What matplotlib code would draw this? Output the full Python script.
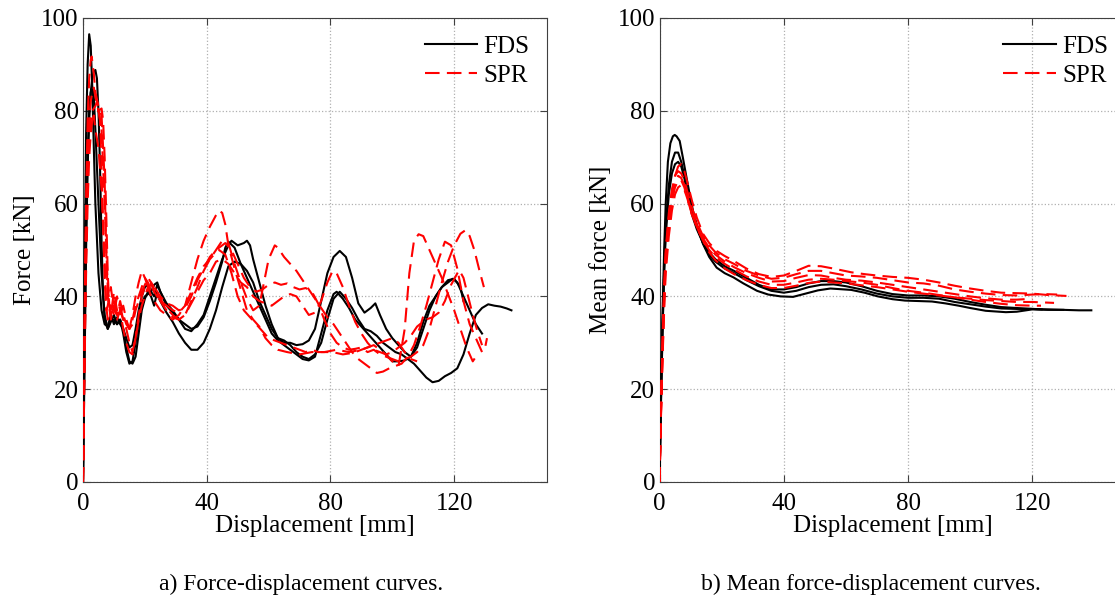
import matplotlib
matplotlib.use("Agg")
import matplotlib.pyplot as plt

plt.rcParams['font.family'] = ['Liberation Serif', 'DejaVu Serif']

# ---- a) force-displacement curves, (displacement [mm], force [kN]) ----
fds_force_1 = [(0, 0), (0.5, 45), (1, 75), (1.5, 90), (2, 96.5), (2.5, 94), (3, 85), (3.5, 72), (4, 60), (5, 45),
               (6, 37), (7, 34), (8, 33.5), (9, 36), (10, 34), (11, 35.5), (12, 34), (13, 33), (14, 29), (15, 26),
               (16, 25.5), (17, 27), (18, 32), (19, 37), (20, 39.5), (21, 41), (22, 40), (23, 38), (24, 41), (25, 39),
               (27, 36.5), (29, 34.5), (31, 32), (33, 30), (35, 28.5), (37, 28.5), (39, 30), (41, 33), (43, 37),
               (45, 42), (47, 46.5), (49, 47.5), (51, 47), (53, 45.5), (55, 43), (57, 39), (59, 36), (61, 33),
               (63, 31), (65, 30.5), (67, 29.5), (69, 28), (71, 27), (73, 26.5), (75, 27.5), (77, 30), (79, 35),
               (81, 39.5), (83, 41), (85, 39.5), (87, 37.5), (89, 35), (91, 33), (93, 32.5), (95, 31.5), (97, 30),
               (99, 29), (101, 28), (103, 27.5), (105, 26.5), (107, 25.5), (109, 24), (111, 22.5), (113, 21.5),
               (115, 21.8), (117, 22.8), (119, 23.5), (121, 24.5), (123, 27.5), (125, 32), (127, 36), (129, 37.5),
               (131, 38.3), (133, 38), (135, 37.8), (137, 37.4), (138.5, 37)]
fds_force_2 = [(0, 0), (0.5, 25), (1, 50), (1.5, 68), (2, 78), (2.5, 84), (3, 87), (3.5, 88.5), (4, 88.8), (4.5, 87),
               (5, 80), (5.5, 68), (6, 52), (6.5, 40), (7, 35), (8, 33), (9, 35), (10, 35), (11, 34), (12, 35),
               (13, 33), (14, 31), (15, 29), (16, 29.5), (17, 33), (18, 37), (19, 40), (20, 42), (21, 42.5), (22, 41),
               (23, 40), (24, 42.5), (25, 41), (27, 38.5), (29, 37), (31, 35), (33, 33), (35, 32.5), (37, 34),
               (39, 36), (41, 40), (43, 44), (45, 48), (47, 51), (48, 52), (50, 51), (52, 51.5), (53, 52), (54, 51),
               (55, 48), (57, 43), (59, 38), (61, 34), (63, 31), (65, 30), (67, 30), (69, 29.5), (71, 29.7),
               (73, 30.5), (75, 33), (77, 39), (79, 45), (81, 48.5), (83, 49.8), (85, 48.5), (87, 44), (89, 38.5),
               (91, 36.5), (93, 37.5), (94.5, 38.5), (96, 36), (98, 33), (100, 31), (102, 29.5), (104, 28),
               (106, 27), (108, 29), (110, 33), (112, 37), (114, 40), (116, 42), (118, 43.5), (120, 43.8), (122, 42),
               (123, 39)]
fds_force_3 = [(0, 0), (0.5, 30), (1, 55), (1.5, 70), (2, 80), (2.5, 84), (3, 85), (3.5, 83), (4, 76), (5, 60),
               (6, 45), (7, 36), (8, 33), (9, 34.5), (10, 36), (11, 34), (12, 35), (13, 32), (14, 28), (15, 25.5),
               (16, 26), (17, 30), (18, 35), (19, 38.5), (20, 40), (21, 40.5), (22, 41), (23, 42.5), (24, 43),
               (25, 41), (27, 38), (29, 36.5), (31, 35), (33, 34), (35, 33), (37, 33.5), (39, 35.5), (41, 39),
               (43, 43), (45, 47.5), (46, 50.5), (47, 51.8), (49, 50.5), (51, 47), (53, 44), (55, 41), (57, 38),
               (59, 35), (61, 32), (63, 30.5), (65, 29.5), (67, 28.5), (69, 27.5), (71, 26.5), (73, 26.2), (75, 27),
               (77, 32), (79, 37), (81, 40.5), (82, 41), (84, 39.5), (86, 37.5), (88, 35), (90, 33.5), (92, 32),
               (94, 30.5), (96, 29), (98, 27.5), (100, 26), (102, 26), (104, 26.2), (106, 27), (108, 30),
               (110, 34.5), (112, 38), (114, 40), (116, 42), (118, 43), (119.5, 43.8), (121, 43), (123, 40),
               (125, 37), (127, 34), (129, 32)]

spr_force_1 = [(0, 0), (0.5, 35), (1, 60), (1.5, 78), (2, 87), (2.5, 91), (2.8, 91.7), (3.5, 88), (4, 84), (5, 81),
               (5.5, 78), (6, 68), (6.5, 55), (7, 44), (7.5, 37), (8, 38), (9, 42), (10, 37), (11, 36), (12, 38),
               (13, 35), (14, 34), (15, 33), (16, 36), (17, 40), (18, 43), (19, 45.5), (20, 44), (21, 42), (22, 43),
               (23, 41), (25, 39), (27, 38), (29, 37), (31, 36.5), (33, 38), (35, 43), (37, 48), (39, 52), (41, 55),
               (43, 57.5), (44, 58.5), (45, 58), (46, 55.5), (47, 51), (49, 46), (51, 41.5), (53, 37), (55, 35),
               (57, 33.5), (59, 31), (61, 29.5), (63, 28.5), (66, 28), (70, 27.5), (74, 28), (78, 28), (82, 28.5),
               (86, 28), (90, 28.5), (94, 29.5), (97, 28), (100, 26), (102, 25), (104, 33), (105.5, 45), (107, 52),
               (108.5, 53.4), (110, 53), (112, 50), (114, 47), (116, 44), (118, 40.5), (120, 37), (122, 33),
               (124, 29), (126, 26), (127, 27)]
spr_force_2 = [(0, 0), (0.5, 30), (1, 55), (1.5, 70), (2, 78), (2.5, 82), (3, 84), (3.5, 85), (4, 83), (5, 80),
               (6, 76), (7, 60), (8, 42), (9, 36), (10, 39), (11, 35), (12, 37), (13, 33), (14, 30), (15, 28),
               (16, 27.5), (17, 31), (18, 36), (19, 40), (20, 42), (21, 41), (22, 43), (23, 42), (25, 39.5),
               (27, 37.5), (29, 36), (31, 35), (33, 36), (35, 39), (37, 42), (39, 45.5), (41, 48), (43, 50), (45, 52),
               (47, 51.5), (49, 47), (51, 43), (53, 39.5), (55, 37), (57, 38), (58.5, 43), (60, 48), (62, 51),
               (63, 50.5), (65, 48.5), (67, 47), (69, 45.5), (71, 43.5), (73, 41.5), (75, 39.5), (77, 37.5),
               (79, 35.5), (81, 34), (83, 32), (85, 30), (87, 28), (89, 26.5), (91, 25.5), (93, 24.5), (95, 23.5),
               (97, 23.8), (99, 24.5), (101, 25), (103, 25.5), (105, 27), (107, 29.5), (109, 33.5), (111, 38),
               (113, 43), (115, 48), (117, 51.8), (119, 51), (121, 46), (123, 39), (125, 34), (127, 31), (129, 28),
               (130, 29), (130.6, 31)]
spr_force_3 = [(0, 0), (0.5, 28), (1, 50), (1.5, 66), (2, 74), (2.5, 78), (3, 80), (4, 81), (4.5, 82), (5, 81),
               (6, 79), (7, 65), (7.5, 50), (8, 40), (9, 35), (10, 38), (11, 36), (12, 39), (13, 36), (14, 34),
               (15, 33), (16, 35), (17, 38), (18, 40), (19, 42), (20, 44), (21, 43), (22, 41), (23, 42), (25, 40),
               (27, 38.5), (29, 38), (31, 37), (33, 37.5), (35, 40), (37, 43.5), (39, 46), (41, 48.5), (43, 50),
               (45, 51), (46, 51.5), (48, 50), (50, 47), (52, 44), (54, 42), (56, 41), (58, 41.5), (60, 42.5),
               (62, 43), (64, 42.5), (66, 42.8), (68, 42), (70, 41.5), (72, 41.8), (74, 41), (76, 38.5), (78, 35),
               (80, 32), (82, 30), (84, 29), (86, 28.5), (88, 28.7), (90, 29), (92, 28), (94, 28.5), (96, 27.5),
               (98, 27), (100, 26.5), (102, 26), (104, 26.5), (106, 27), (108, 28), (110, 29.5), (112, 33), (114, 38),
               (116, 43), (118, 47.5), (120, 51), (122, 53.5), (123.7, 54.3), (125, 53), (126.5, 50), (128, 46),
               (129.6, 42)]
spr_force_4 = [(0, 0), (0.5, 25), (1, 45), (1.5, 60), (2, 70), (2.5, 75), (3, 78), (4, 79), (5, 80), (6, 80.5),
               (6.5, 78), (7, 70), (7.5, 58), (8, 45), (8.5, 38), (9, 36), (10, 41), (11, 37), (12, 36), (13, 38),
               (14, 35), (15, 33), (16, 34), (17, 37), (18, 39), (19, 41), (20, 42.5), (21, 44), (22, 43), (23, 41),
               (25, 39), (27, 37), (29, 35.5), (31, 35), (33, 36), (35, 38.5), (37, 41), (39, 43.5), (41, 45),
               (43, 47.5), (45, 48), (47, 47), (49, 45), (51, 43), (53, 42), (55, 40), (57, 39), (59, 38.5), (61, 38),
               (63, 39), (65, 40), (67, 40.5), (69, 40), (71, 38), (73, 36), (75, 36.5), (77, 39), (79, 43),
               (80.7, 45.5), (82, 45), (84, 42), (86, 38), (88, 34.5), (90, 32), (92, 30), (94, 28.5), (96, 28),
               (98, 27.5), (100, 28), (102, 29), (104, 30), (106, 31.5), (108, 33.5), (110.8, 35), (113, 35.5),
               (115, 36.5), (117, 39), (119, 42.5), (121.6, 45.7), (123, 44), (124.5, 40), (126, 36), (127.5, 32.5),
               (129, 29.5)]
spr_force_5 = [(0, 0), (0.5, 32), (1, 58), (1.5, 72), (2, 77), (2.5, 79), (3, 78), (3.5, 79), (4, 76), (5, 72),
               (6, 63), (7, 48), (7.5, 38), (8, 35), (9, 38), (10, 36), (11, 40), (12, 37), (13, 35), (14, 33),
               (15, 30), (16, 28), (17, 31), (18, 35), (19, 38), (20, 40), (21, 42), (22, 40), (23, 39), (25, 37),
               (27, 36), (29, 35), (31, 36), (33, 38), (35, 41), (37, 44), (39, 46.5), (41, 48), (43, 49.5), (44, 50),
               (46, 49), (48, 45), (50, 40), (52, 37), (54, 35.5), (56, 34), (58, 32.5), (60, 31), (62, 30.5),
               (64, 30), (66, 29.5), (68, 29), (70, 28.5), (72, 28), (74, 28.5), (76, 28), (78, 28), (80, 28),
               (82, 27.8), (84, 27.5), (86, 27.7), (88, 28), (90, 28.5), (92, 29), (94, 29.5), (96, 30), (98, 30.5),
               (100, 31), (102, 30), (104, 28), (106, 26.5), (108, 26)]

# ---- b) mean force-displacement curves ----
fds_mean_1 = [(0, 0), (0.5, 20), (1, 37), (1.5, 50), (2, 60), (2.7, 69), (3.5, 73), (4.3, 74.5), (4.9, 74.8),
              (5.5, 74.5), (6.5, 73.5), (7.5, 70), (8.7, 65.6), (10, 61), (10.8, 58.4), (12, 55.5), (14, 51.3),
              (16, 48.5), (18.4, 46.2), (21, 45), (23.8, 44.1), (27, 42.8), (31.4, 41.2), (35, 40.4), (39, 40),
              (43, 39.9), (47, 40.6), (51, 41.3), (55, 41.7), (61.7, 41.4), (66, 40.8), (70.3, 40), (75, 39.4),
              (79, 39.1), (87.7, 38.9), (92, 38.5), (96.3, 38), (100, 37.5), (105, 36.9), (111.5, 36.6), (115, 36.7),
              (120, 37.2), (125, 37.1), (130, 37.1), (135, 37), (139, 37)]
fds_mean_2 = [(0, 0), (0.5, 18), (1, 34), (1.5, 46), (2, 55), (3, 64), (4, 69), (5, 71), (6, 71), (7, 69), (8, 66),
              (9, 62.5), (10.5, 58), (12, 55), (14, 51.5), (16, 49), (18, 47.5), (21, 46), (24, 45), (28, 43.5),
              (32, 42.2), (36, 41.2), (40, 40.8), (44, 41.2), (48, 42), (52, 42.5), (56, 42.6), (60, 42.2),
              (65, 41.5), (70, 40.6), (75, 40), (80, 39.7), (85, 39.7), (90, 39.5), (95, 38.8), (100, 38.3),
              (105, 37.8), (110, 37.4), (115, 37.3), (120, 37.3), (123, 37.2)]
fds_mean_3 = [(0, 0), (0.5, 18), (1, 33), (1.5, 45), (2, 53), (3, 62), (4, 66.5), (5, 68.5), (6, 69), (7, 68),
              (8, 65.5), (9, 62), (10.5, 57.5), (12, 54.5), (14, 51.5), (16, 49.5), (18, 48), (21, 46.5), (24, 45.5),
              (28, 44), (32, 42.5), (36, 41.5), (40, 41.5), (44, 42), (48, 42.8), (52, 43.3), (56, 43.3), (60, 43),
              (65, 42.2), (70, 41.2), (75, 40.5), (80, 40.2), (85, 40.2), (90, 40), (95, 39.5), (100, 38.8),
              (105, 38.2), (110, 37.7), (115, 37.5), (120, 37.3), (125, 37.2), (130, 37.1)]

spr_mean_1 = [(0, 0), (0.5, 16), (1, 30), (1.5, 41), (2, 49), (3, 57), (4, 62.5), (5, 66), (6, 68), (7, 68.5),
              (8, 67), (9, 64.5), (10.5, 60.5), (12, 57), (14, 53.5), (16, 51.5), (18.4, 49.8), (21, 48.7),
              (23.8, 47.7), (28, 46), (32, 44.8), (36, 44.2), (40, 44.5), (44, 45.5), (48, 46.6), (52, 46.5),
              (56, 46), (61.7, 45.2), (66, 44.8), (70, 44.5), (75, 44.2), (80, 44), (85, 43.6), (90, 43), (95, 42.3),
              (100, 41.7), (105, 41.2), (110, 40.8), (115, 40.7), (120, 40.6), (125, 40.3), (131, 40.1)]
spr_mean_2 = [(0, 0), (0.5, 17), (1, 31), (1.5, 42), (2, 50), (3, 58), (4, 63), (5, 66), (6, 67), (7, 66.5),
              (8, 65), (9, 62.5), (10.5, 59), (12, 56), (14, 53), (16, 51), (18, 49.5), (21, 48), (24, 47),
              (28, 45.5), (32, 44.5), (36, 43.8), (40, 44), (44, 44.8), (48, 45.5), (52, 45.5), (56, 45), (60, 44.5),
              (65, 44.3), (70, 44), (75, 43.5), (80, 43), (85, 42.8), (90, 42.3), (95, 41.5), (100, 41), (105, 40.6),
              (110, 40.3), (115, 40.2), (120, 40.4), (124, 40.5), (128, 40.4)]
spr_mean_3 = [(0, 0), (0.5, 16), (1, 29), (1.5, 40), (2, 48), (3, 56), (4, 61.5), (5, 64.5), (6, 66), (7, 65.5),
              (8, 64), (9, 61.5), (10.5, 58), (12, 55.5), (14, 52.5), (16, 50.5), (18, 49), (21, 47.5), (24, 46.3),
              (28, 45), (32, 44), (36, 43.2), (40, 43.3), (44, 44), (48, 44.6), (52, 44.5), (56, 44), (60, 43.6),
              (65, 43.4), (70, 43), (75, 42.5), (80, 42), (85, 41.5), (90, 41), (95, 40.5), (100, 40), (105, 39.6),
              (110, 39.3), (115, 39.3), (120, 39.5)]
spr_mean_4 = [(0, 0), (0.5, 15), (1, 28), (1.5, 39), (2, 47), (3, 55), (4, 60.5), (5, 63.5), (6, 65), (7, 65),
              (8, 63.5), (9, 61), (10.5, 57.5), (12, 55), (14, 52), (16, 50), (18, 48.5), (21, 47), (24, 45.8),
              (28, 44.3), (32, 43.2), (36, 42.5), (40, 42.5), (44, 43), (48, 43.6), (52, 43.8), (56, 43.6),
              (60, 43.3), (65, 43), (70, 42.5), (75, 41.8), (80, 41.2), (85, 40.8), (90, 40.3), (95, 39.8),
              (100, 39.3), (105, 38.8), (110, 38.4), (115, 38.1), (120, 38), (122.8, 38)]
spr_mean_5 = [(0, 0), (0.5, 15), (1, 27), (1.5, 37), (2, 45), (3, 53), (4, 58.5), (5, 62), (6, 63.5), (7, 64),
              (8, 63), (9, 61), (10.5, 57.5), (12, 55), (14, 52), (16, 49.5), (18, 47.8), (21, 46), (24, 44.8),
              (28, 43.5), (32, 42.5), (36, 41.8), (40, 41.8), (44, 42.3), (48, 42.9), (52, 43.2), (56, 43), (60, 42.8),
              (65, 42.4), (70, 42), (75, 41.5), (80, 41), (85, 40.6), (90, 40.2), (95, 39.8), (100, 39.5),
              (105, 39.2), (110, 39), (115, 38.8), (120, 38.8), (127, 38.6)]

fds_force = [fds_force_1, fds_force_2, fds_force_3]
spr_force = [spr_force_1, spr_force_2, spr_force_3, spr_force_4, spr_force_5]
fds_mean = [fds_mean_1, fds_mean_2, fds_mean_3]
spr_mean = [spr_mean_1, spr_mean_2, spr_mean_3, spr_mean_4, spr_mean_5]

x_ticks = [0, 40, 80, 120]
y_ticks = [0, 20, 40, 60, 80, 100]

FS = 18
dash = (0, (7, 3.5))

fig = plt.figure(figsize=(11.15, 5.99), dpi=100)
ax1 = fig.add_axes([83 / 1115, 117 / 599, 464 / 1115, 464 / 599])
ax2 = fig.add_axes([659.5 / 1115, 117 / 599, 466 / 1115, 464 / 599])


def draw(ax, fds, spr, ylabel):
    for i, c in enumerate(fds):
        x, y = zip(*c)
        ax.plot(x, y, color='black', lw=1.5, label='FDS' if i == 0 else None, zorder=3)
    for i, c in enumerate(spr):
        x, y = zip(*c)
        ax.plot(x, y, color='red', lw=1.5, ls=dash, label='SPR' if i == 0 else None, zorder=4)
    ax.set_xlim(0, 150)
    ax.set_ylim(0, 100)
    ax.set_xticks(x_ticks)
    ax.set_yticks(y_ticks)
    ax.grid(True, ls=':', color='#b0b0b0', lw=0.9)
    ax.tick_params(direction='in', top=True, right=True, length=5, width=0.8, color='#404040',
                   labelsize=FS)
    ax.tick_params(axis='x', pad=8)
    ax.tick_params(axis='y', pad=3)
    for s in ax.spines.values():
        s.set_color('#404040')
        s.set_linewidth(0.8)
    ax.set_xlabel('Displacement [mm]', fontsize=FS, labelpad=0)
    ax.set_ylabel(ylabel, fontsize=FS, labelpad=4)
    ax.legend(loc='upper right', frameon=False, fontsize=FS, handlelength=2.1, handletextpad=0.25,
              labelspacing=0.25, borderaxespad=0.3)


draw(ax1, fds_force, spr_force, 'Force [kN]')
draw(ax2, fds_mean, spr_mean, 'Mean force [kN]')

fig.text(0.27, 0.024, 'a) Force-displacement curves.', ha='center', va='center', fontsize=17)
fig.text(0.781, 0.024, 'b) Mean force-displacement curves.', ha='center', va='center', fontsize=17)

fig.savefig('out.png', dpi=100)
